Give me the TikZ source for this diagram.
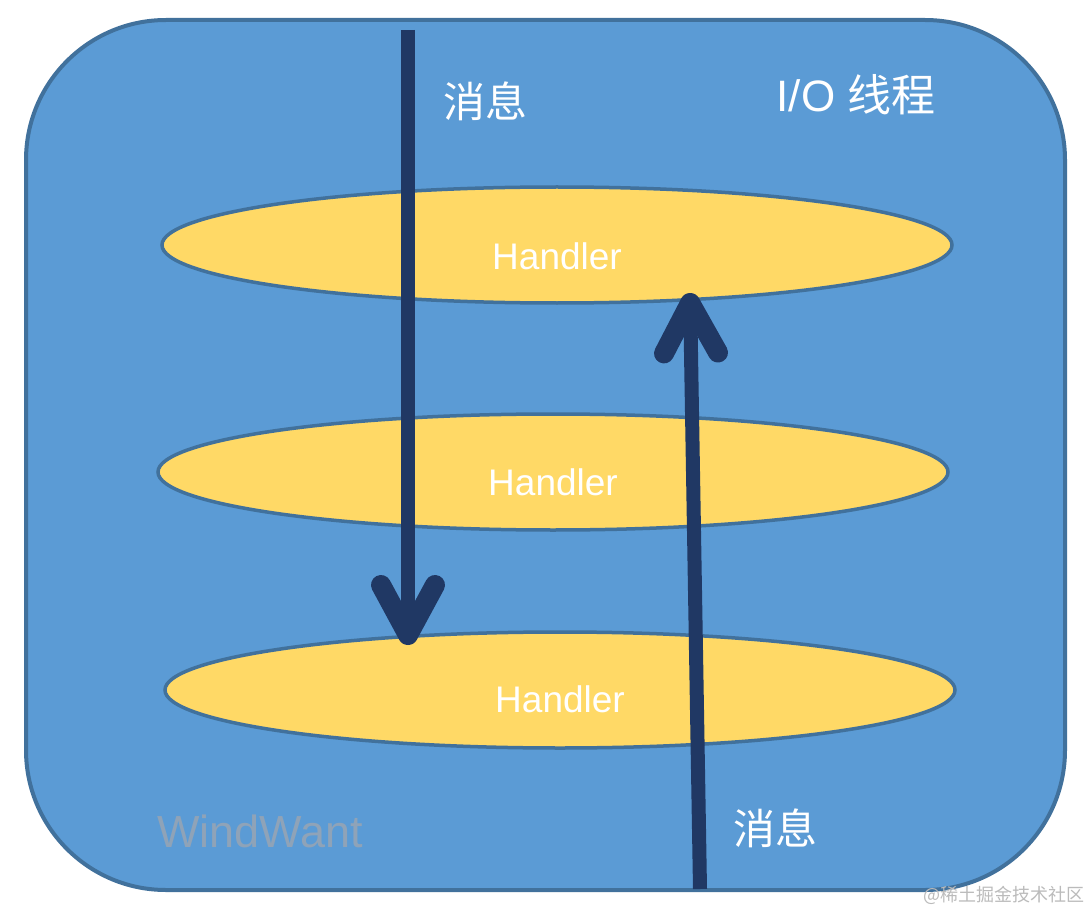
\documentclass[tikz,border=0pt]{standalone}
\usepackage{fontspec}
\setmainfont{Liberation Sans}
\newfontfamily\cjk{Noto Sans CJK SC}
\usetikzlibrary{arrows.meta,shapes.geometric}
\definecolor{boxblue}{HTML}{5B9BD5}
\definecolor{edgeblue}{HTML}{41719C}
\definecolor{handyellow}{HTML}{FFD966}
\definecolor{navy}{HTML}{203864}
\definecolor{wmgray}{HTML}{8FA3B8}
\definecolor{jgray}{HTML}{BBBBBB}
\tikzset{
  handler/.style={ellipse, draw=edgeblue, line width=3.5pt, fill=handyellow,
    minimum width=790pt, minimum height=116pt, inner sep=0pt},
  msgarrow/.style={draw=navy, line width=14pt,
    -{Straight Barb[round, length=50pt, width=54pt, line width=20pt]}},
  label/.style={text=white, inner sep=0pt},
}
\begin{document}
\begin{tikzpicture}[x=1pt,y=-1pt]
\useasboundingbox (0,0) rectangle (1090,912);
\fill[white] (0,0) rectangle (1090,912);
\draw[edgeblue, line width=4pt, fill=boxblue, rounded corners=140pt]
  (26,20) rectangle (1065,890);
\node[handler] (h1) at (557,245) {};
\node[handler] (h2) at (553,472) {};
\node[handler] (h3) at (560,690) {};
\node[label, font=\fontsize{37}{40}\selectfont] (t1) at (557,256) {Handler};
\node[label, font=\fontsize{37}{40}\selectfont] (t2) at (553,482) {Handler};
\node[label, font=\fontsize{37}{40}\selectfont] (t3) at (560,699) {Handler};
\coordinate (dtop) at (408,30);
\coordinate (dtip) at (408,645);
\coordinate (ubot) at (700,889);
\coordinate (utip) at (690,293);
\draw[msgarrow] (dtop) -- (dtip);
\draw[msgarrow] (ubot) -- (utip);
\node[label, font=\cjk\fontsize{42}{46}\selectfont] (m1) at (485,101) {消息};
\node[label, font=\cjk\fontsize{42}{46}\selectfont] (m2) at (775,828) {消息};
\node[label, font=\fontsize{44}{48}\selectfont] (io) at (856,95) {I/O {\cjk 线程}};
\node[text=wmgray, inner sep=0pt, font=\fontsize{45}{48}\selectfont] (ww) at (260,831) {WindWant};
\node[text=jgray, inner sep=0pt, font=\cjk\fontsize{18}{20}\selectfont] (wm) at (1004,895) {@稀土掘金技术社区};
\end{tikzpicture}
\end{document}
